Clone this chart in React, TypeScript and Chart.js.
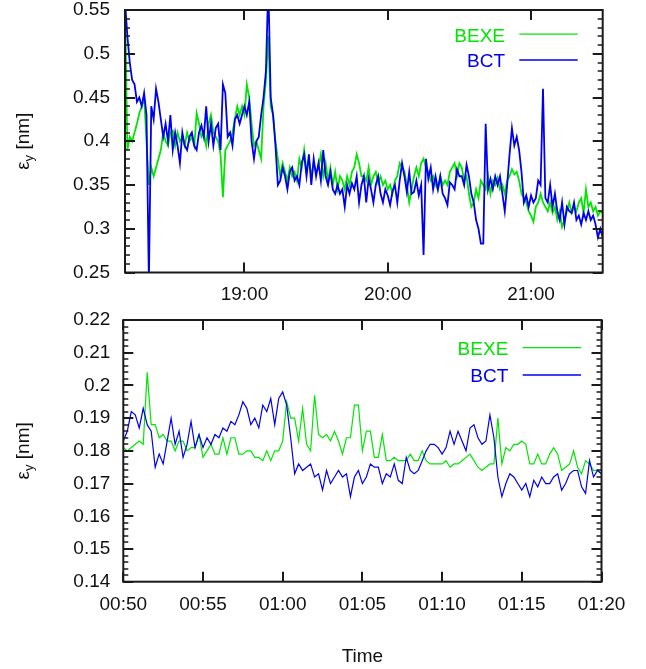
import React, { useEffect, useRef } from 'react';
import { Chart, registerables } from 'chart.js';

Chart.register(...registerables);

const FONT = '"Liberation Sans", Arial, Helvetica, sans-serif';
const GREEN = '#00e600';
const BLUE = '#0000f0';
const TEXT = '#111111';

const seriesLabels = ['BEXE', 'BCT'];
const yTitleMain = 'ε';
const yTitleSub = 'y';
const yTitleUnit = ' [nm]';
const xTitle = 'Time';

// ---------- upper panel: 18:10 .. 21:30, one sample per minute ----------
const topStartMin = 1090; // minutes after midnight (18:10)
const topStepMin = 1;
const topXTicks = [1140, 1200, 1260];
const topYTicks = [0.25, 0.3, 0.35, 0.4, 0.45, 0.5, 0.55];
const topYMinor = 0.01;

const topBEXE = [
  0.56, 0.39, 0.405, 0.40, 0.41, 0.42, 0.432, 0.44, 0.45, 0.40,
  0.35, 0.37, 0.36, 0.37, 0.38, 0.39, 0.41, 0.40, 0.395, 0.41,
  0.412, 0.395, 0.41, 0.40, 0.405, 0.395, 0.41, 0.40, 0.405, 0.395,
  0.432, 0.42, 0.405, 0.41, 0.395, 0.42, 0.43, 0.41, 0.405, 0.40,
  0.385, 0.336, 0.39, 0.395, 0.40, 0.41, 0.425, 0.44, 0.43, 0.44,
  0.43, 0.465, 0.45, 0.42, 0.395, 0.40, 0.39, 0.38, 0.44, 0.47,
  0.52, 0.44, 0.43, 0.40, 0.38, 0.36, 0.375, 0.365, 0.355, 0.37,
  0.36, 0.365, 0.355, 0.38, 0.37, 0.39, 0.365, 0.38, 0.36, 0.375,
  0.365, 0.37, 0.385, 0.36, 0.375, 0.355, 0.37, 0.35, 0.365, 0.345,
  0.36, 0.355, 0.345, 0.36, 0.35, 0.365, 0.37, 0.385, 0.375, 0.36,
  0.36, 0.355, 0.37, 0.35, 0.36, 0.365, 0.352, 0.36, 0.35, 0.355,
  0.345, 0.35, 0.34, 0.355, 0.36, 0.375, 0.37, 0.365, 0.35, 0.33,
  0.345, 0.36, 0.37, 0.36, 0.375, 0.38, 0.37, 0.365, 0.355, 0.36,
  0.35, 0.345, 0.36, 0.35, 0.355, 0.35, 0.365, 0.37, 0.375, 0.36,
  0.375, 0.37, 0.355, 0.36, 0.34, 0.325, 0.33, 0.345, 0.335, 0.355,
  0.35, 0.345, 0.36, 0.34, 0.355, 0.35, 0.358, 0.345, 0.35, 0.34,
  0.355, 0.36, 0.368, 0.362, 0.365, 0.355, 0.34, 0.335, 0.33, 0.32,
  0.315, 0.308, 0.325, 0.33, 0.34, 0.33, 0.325, 0.32, 0.33, 0.318,
  0.325, 0.31, 0.32, 0.302, 0.31, 0.32, 0.33, 0.318, 0.325, 0.32,
  0.33, 0.335, 0.318, 0.345, 0.325, 0.33, 0.32, 0.325, 0.315, 0.32, 0.318,
];

const topBCT = [
  0.56, 0.52, 0.49, 0.47, 0.465, 0.445, 0.45, 0.44, 0.455, 0.43,
  0.24, 0.44, 0.425, 0.46, 0.445, 0.425, 0.405, 0.42, 0.40, 0.43,
  0.39, 0.41, 0.395, 0.375, 0.41, 0.395, 0.39, 0.405, 0.41, 0.395,
  0.39, 0.41, 0.418, 0.405, 0.44, 0.40, 0.42, 0.395, 0.415, 0.42,
  0.39, 0.465, 0.455, 0.405, 0.41, 0.395, 0.425, 0.43, 0.42, 0.43,
  0.44, 0.43, 0.445, 0.40, 0.38, 0.40, 0.405, 0.43, 0.45, 0.48,
  0.58, 0.45, 0.43, 0.395, 0.35, 0.355, 0.37, 0.36, 0.345, 0.365,
  0.37, 0.355, 0.36, 0.35, 0.375, 0.385, 0.36, 0.385, 0.35, 0.38,
  0.36, 0.375, 0.355, 0.39, 0.36, 0.35, 0.365, 0.345, 0.34, 0.35,
  0.34, 0.345, 0.325, 0.35, 0.34, 0.352, 0.345, 0.36, 0.33, 0.35,
  0.36, 0.33, 0.357, 0.345, 0.33, 0.35, 0.36, 0.34, 0.33, 0.345,
  0.338, 0.327, 0.343, 0.35, 0.33, 0.355, 0.375, 0.36, 0.342, 0.365,
  0.34, 0.342, 0.355, 0.338, 0.35, 0.27, 0.38, 0.357, 0.37, 0.345,
  0.36, 0.345, 0.36, 0.34, 0.335, 0.327, 0.353, 0.35, 0.345, 0.368,
  0.36, 0.36, 0.35, 0.373, 0.36, 0.34, 0.33, 0.31, 0.30, 0.283,
  0.283, 0.42, 0.345, 0.357, 0.345, 0.36, 0.35, 0.36, 0.34, 0.32,
  0.35, 0.385, 0.415, 0.395, 0.405, 0.39, 0.365, 0.33, 0.338, 0.325,
  0.338, 0.33, 0.335, 0.355, 0.35, 0.46, 0.335, 0.33, 0.35, 0.325,
  0.34, 0.32, 0.31, 0.33, 0.305, 0.325, 0.32, 0.318, 0.33, 0.31,
  0.315, 0.305, 0.318, 0.31, 0.32, 0.31, 0.315, 0.305, 0.29, 0.30, 0.29,
];

// ---------- lower panel: 00:50 .. 01:20, one sample every 15 s ----------
const botStartMin = 50;
const botStepMin = 0.25;
const botXTicks = [50, 55, 60, 65, 70, 75, 80];
const botYTicks = [0.14, 0.15, 0.16, 0.17, 0.18, 0.19, 0.2, 0.21, 0.22];
const botYMinor = 0.002;

const botBEXE = [
  0.181, 0.180, 0.181, 0.182, 0.183, 0.182, 0.204, 0.188, 0.188, 0.184,
  0.185, 0.183, 0.183, 0.180, 0.183, 0.183, 0.180, 0.181, 0.181, 0.185,
  0.178, 0.180, 0.182, 0.179, 0.179, 0.184, 0.179, 0.184, 0.184, 0.179,
  0.179, 0.180, 0.180, 0.178, 0.178, 0.177, 0.180, 0.177, 0.180, 0.180,
  0.183, 0.195, 0.190, 0.190, 0.183, 0.193, 0.182, 0.180, 0.197, 0.185,
  0.184, 0.185, 0.183, 0.186, 0.183, 0.179, 0.184, 0.184, 0.194, 0.194,
  0.180, 0.186, 0.186, 0.178, 0.178, 0.185, 0.177, 0.177, 0.178, 0.177,
  0.177, 0.177, 0.179, 0.177, 0.177, 0.180, 0.177, 0.176, 0.176, 0.176,
  0.176, 0.177, 0.175, 0.176, 0.176, 0.177, 0.178, 0.179, 0.177, 0.175,
  0.174, 0.175, 0.176, 0.176, 0.190, 0.176, 0.181, 0.180, 0.182, 0.182,
  0.183, 0.182, 0.176, 0.176, 0.179, 0.176, 0.176, 0.179, 0.181, 0.179,
  0.174, 0.175, 0.176, 0.180, 0.175, 0.173, 0.177, 0.176, 0.174, 0.174,
  0.173,
];

const botBCT = [
  0.183, 0.186, 0.192, 0.191, 0.187, 0.193, 0.188, 0.186, 0.175, 0.179,
  0.176, 0.183, 0.190, 0.182, 0.186, 0.178, 0.182, 0.189, 0.181, 0.185,
  0.181, 0.184, 0.182, 0.185, 0.184, 0.187, 0.186, 0.189, 0.188, 0.191,
  0.195, 0.193, 0.188, 0.190, 0.187, 0.194, 0.192, 0.196, 0.188, 0.196,
  0.198, 0.194, 0.184, 0.173, 0.176, 0.174, 0.175, 0.176, 0.172, 0.173,
  0.168, 0.174, 0.170, 0.172, 0.174, 0.172, 0.173, 0.166, 0.172, 0.174,
  0.170, 0.172, 0.176, 0.175, 0.175, 0.170, 0.173, 0.172, 0.176, 0.171,
  0.170, 0.178, 0.174, 0.173, 0.174, 0.177, 0.180, 0.182, 0.182, 0.181,
  0.179, 0.181, 0.186, 0.182, 0.186, 0.183, 0.180, 0.187, 0.188, 0.184,
  0.182, 0.183, 0.191, 0.184, 0.172, 0.166, 0.170, 0.173, 0.172, 0.170,
  0.168, 0.170, 0.166, 0.171, 0.169, 0.172, 0.170, 0.170, 0.172, 0.173,
  0.168, 0.170, 0.173, 0.174, 0.174, 0.169, 0.167, 0.177, 0.172, 0.174,
  0.173,
];

type Panel = {
  start: number; step: number; bexe: number[]; bct: number[];
  xTicks: number[]; yTicks: number[]; yMinor: number;
  lineWidth: number;
  padTop: number; padRight: number; yAxisW: number; xAxisH: number;
  xPad: number; yPad: number;
  legend: { textRight: number; lineFrom: number; lineTo: number; rows: number[]; lineDy: number[] };
  showXTitle: boolean; xTitleDy: number;
};

const pad2 = (n: number) => (n < 10 ? '0' : '') + n;
const fmtTime = (v: number) => {
  const total = Math.round(v);
  return pad2(Math.floor(total / 60) % 24) + ':' + pad2(total % 60);
};
const fmtNum = (v: number) => String(+(+v).toFixed(3));

function drawYTitle(ctx: CanvasRenderingContext2D, x: number, cy: number) {
  ctx.save();
  ctx.translate(x, cy);
  ctx.rotate(-Math.PI / 2);
  ctx.fillStyle = TEXT;
  ctx.textBaseline = 'alphabetic';
  ctx.textAlign = 'left';
  const big = `19px ${FONT}`;
  const small = `13px ${FONT}`;
  ctx.font = big;
  const w1 = ctx.measureText(yTitleMain).width;
  const w3 = ctx.measureText(yTitleUnit).width;
  ctx.font = small;
  const w2 = ctx.measureText(yTitleSub).width;
  let cx = -(w1 + w2 + w3) / 2;
  ctx.font = big;
  ctx.fillText(yTitleMain, cx, 0);
  cx += w1;
  ctx.font = small;
  ctx.fillText(yTitleSub, cx, 4);
  cx += w2;
  ctx.font = big;
  ctx.fillText(yTitleUnit, cx, 0);
  ctx.restore();
}

function makeDecor(p: Panel) {
  return {
    id: 'decor',
    afterDatasetsDraw(chart: any) {
      const { ctx, chartArea: a, scales } = chart;
      const xs = scales.x;
      const ys = scales.y;
      ctx.save();
      ctx.strokeStyle = '#1a1a1a';
      ctx.lineWidth = 2;
      ctx.beginPath();
      for (const t of p.xTicks) {
        const px = Math.round(xs.getPixelForValue(t));
        ctx.moveTo(px, a.top);
        ctx.lineTo(px, a.top + 10);
        ctx.moveTo(px, a.bottom);
        ctx.lineTo(px, a.bottom - 10);
      }
      ctx.stroke();
      const majorStep = p.yTicks[1] - p.yTicks[0];
      const perMajor = Math.round(majorStep / p.yMinor);
      const n = Math.round((ys.max - ys.min) / p.yMinor);
      for (let i = 0; i <= n; i++) {
        const v = ys.min + i * p.yMinor;
        const py = Math.round(ys.getPixelForValue(v));
        const major = i % perMajor === 0;
        const len = major ? 10 : 5;
        ctx.lineWidth = major ? 2 : 1.5;
        ctx.beginPath();
        ctx.moveTo(a.left, py);
        ctx.lineTo(a.left + len, py);
        ctx.moveTo(a.right, py);
        ctx.lineTo(a.right - len, py);
        ctx.stroke();
      }
      ctx.lineWidth = 2;
      ctx.strokeRect(a.left, a.top, a.right - a.left, a.bottom - a.top);

      const lg = p.legend;
      ctx.font = `19px ${FONT}`;
      ctx.textAlign = 'right';
      ctx.textBaseline = 'alphabetic';
      chart.data.datasets.forEach((ds: any, i: number) => {
        const base = a.top + lg.rows[i];
        ctx.fillStyle = ds.borderColor;
        ctx.fillText(ds.label, a.right - lg.textRight, base);
        ctx.strokeStyle = ds.borderColor;
        ctx.lineWidth = 1.3;
        ctx.beginPath();
        ctx.moveTo(a.right - lg.lineFrom, base + lg.lineDy[i]);
        ctx.lineTo(a.right - lg.lineTo, base + lg.lineDy[i]);
        ctx.stroke();
      });

      drawYTitle(ctx, 28.5, (a.top + a.bottom) / 2);
      if (p.showXTitle) {
        ctx.font = `19px ${FONT}`;
        ctx.fillStyle = TEXT;
        ctx.textAlign = 'center';
        ctx.textBaseline = 'alphabetic';
        ctx.fillText(xTitle, (a.left + a.right) / 2, a.bottom + p.xTitleDy);
      }
      ctx.restore();
    },
  };
}

function buildConfig(p: Panel): any {
  const mk = (vals: number[]) => vals.map((v, i) => ({ x: p.start + i * p.step, y: v }));
  const tickFont = { family: FONT, size: 19 };
  return {
    type: 'line',
    data: {
      datasets: [
        { label: seriesLabels[0], data: mk(p.bexe), borderColor: GREEN, backgroundColor: GREEN, borderWidth: p.lineWidth, pointRadius: 0, tension: 0, fill: false, order: 1 },
        { label: seriesLabels[1], data: mk(p.bct), borderColor: BLUE, backgroundColor: BLUE, borderWidth: p.lineWidth, pointRadius: 0, tension: 0, fill: false, order: 0 },
      ],
    },
    options: {
      animation: false,
      responsive: false,
      devicePixelRatio: 1,
      events: [],
      layout: { padding: { left: 0, top: p.padTop, right: p.padRight, bottom: 0 } },
      plugins: { legend: { display: false }, tooltip: { enabled: false }, title: { display: false } },
      scales: {
        x: {
          type: 'linear',
          min: p.start,
          max: p.start + (p.bexe.length - 1) * p.step,
          afterBuildTicks: (s: any) => { s.ticks = p.xTicks.map((value) => ({ value })); },
          afterFit: (s: any) => { s.height = p.xAxisH; s.paddingLeft = 0; s.paddingRight = 0; },
          grid: { display: false, drawTicks: false },
          border: { display: false },
          ticks: { padding: p.xPad, font: tickFont, color: TEXT, maxRotation: 0, autoSkip: false, callback: (v: any) => fmtTime(+v) },
        },
        y: {
          type: 'linear',
          min: p.yTicks[0],
          max: p.yTicks[p.yTicks.length - 1],
          afterBuildTicks: (s: any) => { s.ticks = p.yTicks.map((value) => ({ value })); },
          afterFit: (s: any) => { s.width = p.yAxisW; s.paddingTop = 0; s.paddingBottom = 0; },
          grid: { display: false, drawTicks: false },
          border: { display: false },
          ticks: { padding: p.yPad, font: tickFont, color: TEXT, autoSkip: false, callback: (v: any) => fmtNum(+v) },
        },
      },
    },
    plugins: [makeDecor(p)],
  };
}

const topPanel: Panel = {
  start: topStartMin, step: topStepMin, bexe: topBEXE, bct: topBCT,
  xTicks: topXTicks, yTicks: topYTicks, yMinor: topYMinor, lineWidth: 1.8,
  padTop: 10, padRight: 43.3, yAxisW: 125, xAxisH: 37.5, xPad: 11, yPad: 15,
  legend: { textRight: 97.7, lineFrom: 83.4, lineTo: 25, rows: [31.7, 56.7], lineDy: [-7.5, -6.7] },
  showXTitle: false, xTitleDy: 0,
};

const botPanel: Panel = {
  start: botStartMin, step: botStepMin, bexe: botBEXE, bct: botBCT,
  xTicks: botXTicks, yTicks: botYTicks, yMinor: botYMinor, lineWidth: 1.2,
  padTop: 10, padRight: 44.5, yAxisW: 123.3, xAxisH: 87.3, xPad: 12, yPad: 13,
  legend: { textRight: 93.2, lineFrom: 78.8, lineTo: 20.5, rows: [35, 61.7], lineDy: [-7.3, -6.7] },
  showXTitle: true, xTitleDy: 80,
};

export default function App() {
  const topRef = useRef<HTMLCanvasElement>(null);
  const botRef = useRef<HTMLCanvasElement>(null);
  useEffect(() => {
    const c1 = new Chart(topRef.current as HTMLCanvasElement, buildConfig(topPanel));
    const c2 = new Chart(botRef.current as HTMLCanvasElement, buildConfig(botPanel));
    return () => {
      c1.destroy();
      c2.destroy();
    };
  }, []);
  return (
    <div style={{ position: 'absolute', left: 0, top: 0, width: 646, height: 669, background: '#ffffff' }}>
      <canvas ref={topRef} width={646} height={310} style={{ position: 'absolute', left: 0, top: 0 }} />
      <canvas ref={botRef} width={646} height={359} style={{ position: 'absolute', left: 0, top: 310 }} />
    </div>
  );
}
